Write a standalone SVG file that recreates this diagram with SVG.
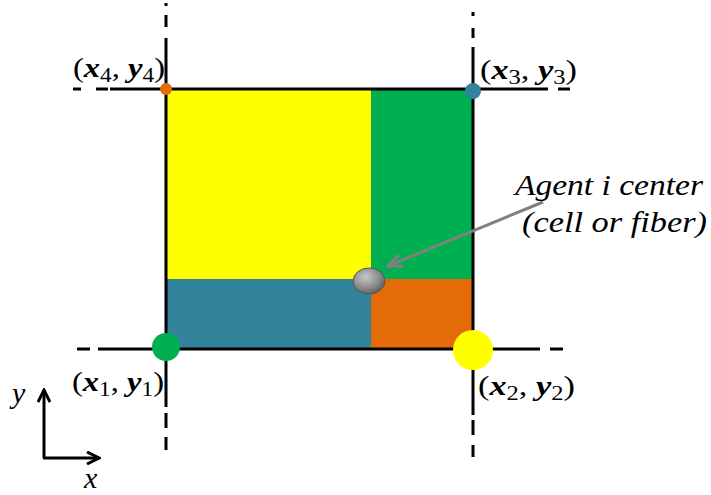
<svg xmlns="http://www.w3.org/2000/svg" width="711" height="495" viewBox="0 0 711 495">
<style>
.ln{stroke:#000;stroke-width:3;fill:none}
.m{font-family:"Liberation Serif","DejaVu Serif",serif;font-size:28px;fill:#000}
.b{font-weight:bold;font-style:italic}
.s{font-size:20px}
.t{font-family:"Liberation Serif","DejaVu Serif",serif;font-style:italic;font-size:30px;fill:#000}
</style>
<defs>
<radialGradient id="ball" cx="0.4" cy="0.35" r="0.7">
<stop offset="0" stop-color="#c8c8c8"/>
<stop offset="0.6" stop-color="#8c8c8c"/>
<stop offset="1" stop-color="#5a5a5a"/>
</radialGradient>
<marker id="ah" markerWidth="18" markerHeight="14" refX="16" refY="7" orient="auto" markerUnits="userSpaceOnUse" viewBox="0 0 18 14">
<path d="M2,1 L16,7 L2,13" fill="none" stroke="#808080" stroke-width="3"/>
</marker>
<marker id="ax" markerWidth="16" markerHeight="14" refX="14" refY="7" orient="auto" markerUnits="userSpaceOnUse" viewBox="0 0 16 14">
<path d="M2,1 L14,7 L2,13" fill="none" stroke="#000" stroke-width="3"/>
</marker>
</defs>
<g id="cell">
<rect x="166" y="89" width="205" height="190" fill="#FFFF00"/>
<rect x="371" y="89" width="102" height="190" fill="#00B050"/>
<rect x="166" y="279" width="205" height="70" fill="#31849B"/>
<rect x="371" y="279" width="102" height="70" fill="#E36C09"/>
</g>
<g id="connectors">
<g id="grid-lines" class="ln">
<path d="M73,89H81M96,89H108M110,89H548M558,89H570"/>
<path d="M77,349H90M98,349H112M112,349H540M550,349H563"/>
<path d="M166,3V6M166,15V27M166,38V407M166,413V428M166,437V450"/>
<path d="M473,12V16M473,28V38M473,47V415M473,420V435M473,445V457"/>
</g>
<line id="agent-arrow" x1="543" y1="202" x2="388" y2="266" stroke="#808080" stroke-width="3" marker-end="url(#ah)"/>
<g id="axes">
<line x1="44" y1="458" x2="44" y2="390" class="ln" marker-end="url(#ax)"/>
<line x1="43" y1="458" x2="99" y2="458" class="ln" marker-end="url(#ax)"/>
</g>
</g>
<g id="p4">
<circle cx="166" cy="89" r="6" fill="#E36C09"/>
<text class="m" x="73" y="77" textLength="92" lengthAdjust="spacingAndGlyphs">(<tspan class="b">x</tspan><tspan class="s" dy="5">4</tspan><tspan dy="-5">, </tspan><tspan class="b">y</tspan><tspan class="s" dy="5">4</tspan><tspan dy="-5">)</tspan></text>
</g>
<g id="p3">
<circle cx="473" cy="91" r="8" fill="#31849B"/>
<text class="m" x="480" y="79" textLength="97" lengthAdjust="spacingAndGlyphs">(<tspan class="b">x</tspan><tspan class="s" dy="5">3</tspan><tspan dy="-5">, </tspan><tspan class="b">y</tspan><tspan class="s" dy="5">3</tspan><tspan dy="-5">)</tspan></text>
</g>
<g id="p1">
<circle cx="166" cy="347" r="14" fill="#00B050"/>
<text class="m" x="72" y="391" textLength="92" lengthAdjust="spacingAndGlyphs">(<tspan class="b">x</tspan><tspan class="s" dy="5">1</tspan><tspan dy="-5">, </tspan><tspan class="b">y</tspan><tspan class="s" dy="5">1</tspan><tspan dy="-5">)</tspan></text>
</g>
<g id="p2">
<circle cx="473" cy="350" r="20" fill="#FFFF00"/>
<text class="m" x="478" y="395" textLength="97" lengthAdjust="spacingAndGlyphs">(<tspan class="b">x</tspan><tspan class="s" dy="5">2</tspan><tspan dy="-5">, </tspan><tspan class="b">y</tspan><tspan class="s" dy="5">2</tspan><tspan dy="-5">)</tspan></text>
</g>
<g id="agent">
<ellipse cx="369" cy="281" rx="16" ry="13" fill="url(#ball)" stroke="#555" stroke-width="1"/>
<text class="t" x="515" y="195" textLength="188" lengthAdjust="spacingAndGlyphs">Agent i center</text>
<text class="t" x="522" y="232" textLength="185" lengthAdjust="spacingAndGlyphs">(cell or fiber)</text>
</g>
<g id="axis-labels">
<text class="t" x="12" y="403" font-size="28">y</text>
<text class="t" x="84" y="488" font-size="28">x</text>
</g>
</svg>
